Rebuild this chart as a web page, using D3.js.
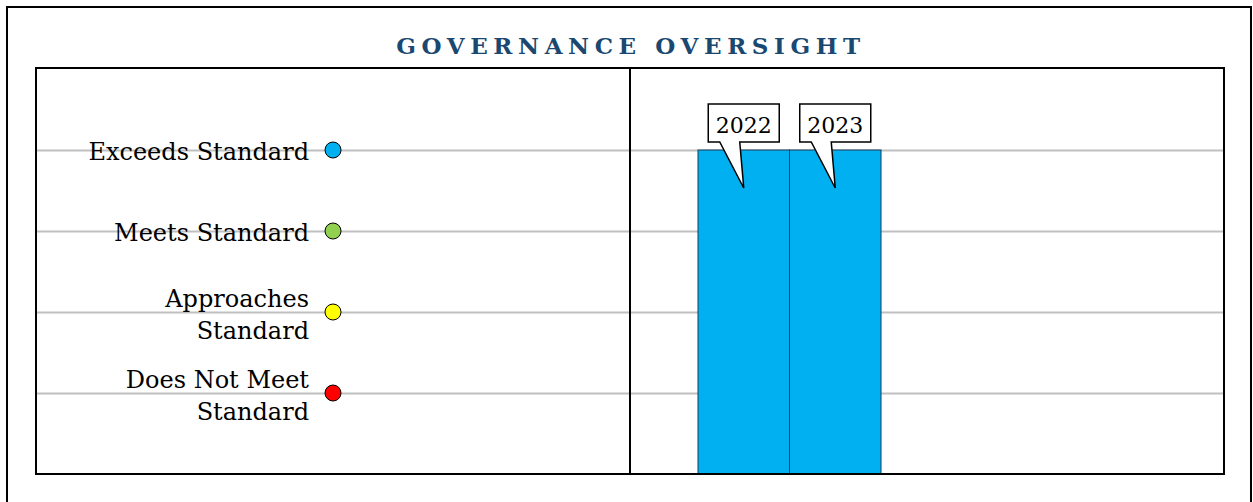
<!DOCTYPE html>
<html><head><meta charset="utf-8">
<script src="https://cdn.jsdelivr.net/npm/d3@7"></script>
<style>html,body{margin:0;padding:0;background:#fff;}svg{display:block;}</style>
</head><body>
<svg id="chart" width="1253" height="502"></svg>
<script>
const title = "GOVERNANCE OVERSIGHT";
const categories = ["2022", "2023"];
const values = [4, 4];
const levelValues = [1, 2, 3, 4];
const levelLabels = [["Does Not Meet", "Standard"], ["Approaches", "Standard"], ["Meets Standard"], ["Exceeds Standard"]];
const levelColors = ["#ff0000", "#ffff00", "#92d050", "#00b0f0"];

const svg = d3.select("#chart");
const serif = "'DejaVu Serif', serif";

// outer frame
svg.append("rect").attr("x", 7).attr("y", 7).attr("width", 1244).attr("height", 510)
  .attr("fill", "#fff").attr("stroke", "#000").attr("stroke-width", 2);

const plot = {left: 36, right: 1224, top: 68, bottom: 474, divider: 630};
const y = d3.scaleLinear().domain([0, 5]).range([plot.bottom, plot.top + 1]);
const x = d3.scaleBand().domain(categories).range([698, 881]).paddingInner(0);

// title
svg.append("text").attr("x", 631).attr("y", 54).attr("text-anchor", "middle")
  .attr("font-family", serif).attr("font-weight", "bold").attr("font-size", 23)
  .attr("letter-spacing", 5.6).attr("fill", "#1a4870").text(title);

// gridlines
const yAxis = d3.axisLeft(y).tickValues(levelValues).tickSize(-(plot.right - plot.left)).tickFormat("");
const ga = svg.append("g").attr("transform", `translate(${plot.left},0)`).call(yAxis);
ga.select(".domain").remove();
ga.selectAll(".tick line").attr("stroke", "#c0c0c0").attr("stroke-width", 2);

// bars
svg.append("g").selectAll("rect").data(values).join("rect")
  .attr("x", (d, i) => x(categories[i])).attr("width", x.bandwidth())
  .attr("y", d => y(d)).attr("height", d => y(0) - y(d))
  .attr("fill", "#00b0f0").attr("stroke", "#1f3b57").attr("stroke-width", 1);

// level labels and dots
const lg = svg.append("g");
levelValues.forEach((v, i) => {
  const lines = levelLabels[i];
  const t = lg.append("text").attr("text-anchor", "end").attr("font-family", serif)
    .attr("font-size", 24).attr("fill", "#000");
  if (lines.length === 1) {
    t.append("tspan").attr("x", 309).attr("y", y(v) + 10).text(lines[0]);
  } else {
    t.append("tspan").attr("x", 309).attr("y", y(v) - 5).text(lines[0]);
    t.append("tspan").attr("x", 309).attr("y", y(v) + 27).text(lines[1]);
  }
  lg.append("circle").attr("cx", 333).attr("cy", y(v)).attr("r", 8)
    .attr("fill", levelColors[i]).attr("stroke", "#000").attr("stroke-width", 1);
});

// plot frame & divider
svg.append("rect").attr("x", plot.left).attr("y", plot.top)
  .attr("width", plot.right - plot.left).attr("height", plot.bottom - plot.top)
  .attr("fill", "none").attr("stroke", "#000").attr("stroke-width", 2);
svg.append("line").attr("x1", plot.divider).attr("x2", plot.divider)
  .attr("y1", plot.top).attr("y2", plot.bottom).attr("stroke", "#000").attr("stroke-width", 2);

// callouts
const cg = svg.append("g");
values.forEach((d, i) => {
  const cx = x(categories[i]) + x.bandwidth() / 2;
  const bw = 71, bh = 38, top = 104, bottom = top + bh;
  const tip = y(d) + 38;
  const l = cx - bw / 2, r = cx + bw / 2;
  const p = `M${l},${top}H${r}V${bottom}H${cx - 4}L${cx},${tip}L${cx - 24},${bottom}H${l}Z`;
  cg.append("path").attr("d", p).attr("fill", "#fff").attr("stroke", "#000").attr("stroke-width", 1.5);
  cg.append("text").attr("x", cx).attr("y", bottom - 9).attr("text-anchor", "middle")
    .attr("font-family", serif).attr("font-size", 22).attr("fill", "#000").text(categories[i]);
});
</script>
</body></html>
